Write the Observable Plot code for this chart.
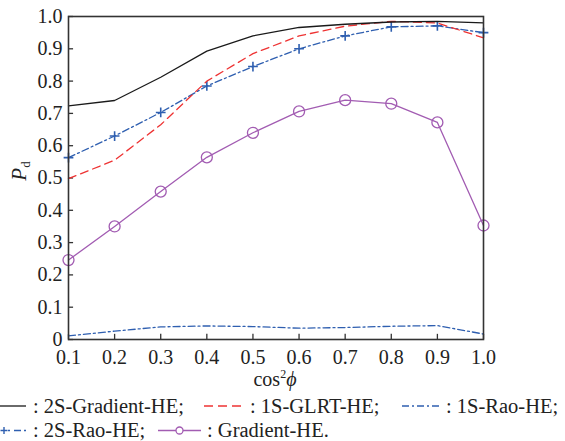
<!DOCTYPE html>
<html>
<head>
<meta charset="utf-8">
<script src="https://cdn.jsdelivr.net/npm/d3@7"></script>
<script src="https://cdn.jsdelivr.net/npm/@observablehq/plot@0.6"></script>
<style>
  html, body { margin: 0; padding: 0; background: #fff; font-family: 'Liberation Serif', serif; overflow: hidden; }
  #chart svg { display: block; }
  #legend { display: block; }
</style>
</head>
<body>
<div id="chart"></div>
<script>
// ---- data ----
const cos2phi = [0.1, 0.2, 0.3, 0.4, 0.5, 0.6, 0.7, 0.8, 0.9, 1.0];
const gradient2S = [0.723, 0.740, 0.812, 0.893, 0.940, 0.966, 0.976, 0.983, 0.985, 0.980];
const glrt1S     = [0.498, 0.555, 0.665, 0.800, 0.885, 0.940, 0.970, 0.985, 0.980, 0.934];
const rao1S      = [0.011, 0.026, 0.039, 0.042, 0.040, 0.035, 0.037, 0.041, 0.043, 0.017];
const rao2S      = [0.563, 0.630, 0.703, 0.785, 0.845, 0.900, 0.940, 0.968, 0.971, 0.950];
const gradientHE = [0.246, 0.350, 0.458, 0.564, 0.640, 0.706, 0.741, 0.730, 0.672, 0.353];
const xTicks = [0.1, 0.2, 0.3, 0.4, 0.5, 0.6, 0.7, 0.8, 0.9, 1.0];
const yTicks = [0, 0.1, 0.2, 0.3, 0.4, 0.5, 0.6, 0.7, 0.8, 0.9, 1.0];
const seriesNames = ["2S-Gradient-HE", "1S-GLRT-HE", "1S-Rao-HE", "2S-Rao-HE", "Gradient-HE"];

const BLACK = "#1a1a1a", RED = "#ee3333", BLUE = "#2f5fb0", PURPLE = "#a25cb2";
const FONT = "Liberation Serif";

const toRows = (ys) => cos2phi.map((x, i) => ({x, y: ys[i]}));

// stroked plus symbol
const plusSymbol = {
  draw(ctx, size) {
    const r = Math.sqrt(size) / 2;
    ctx.moveTo(-r, 0); ctx.lineTo(r, 0);
    ctx.moveTo(0, -r); ctx.lineTo(0, r);
  }
};

const W = 565, H = 393;
const chart = Plot.plot({
  width: W, height: H,
  marginLeft: 68, marginRight: 82, marginTop: 16, marginBottom: 54,
  style: {fontFamily: FONT, fontSize: "20px", color: "#222", background: "#fff"},
  x: {domain: [0.1, 1.0], ticks: xTicks, tickFormat: d => d.toFixed(1), tickSize: 0, tickPadding: 10, label: null},
  y: {domain: [0, 1.0], ticks: yTicks, tickFormat: d => d === 0 ? "0" : d.toFixed(1), tickSize: 0, tickPadding: 6, label: null},
  marks: [
    // inward ticks
    Plot.ruleX(xTicks, {x: d => d, y1: 0, y2: 0.016, stroke: "#333", strokeWidth: 1.3}),
    Plot.ruleY(yTicks, {y: d => d, x1: 0.1, x2: 0.111, stroke: "#333", strokeWidth: 1.3}),
    Plot.line(toRows(rao1S), {x: "x", y: "y", stroke: BLUE, strokeWidth: 1.3, strokeDasharray: "7,3,2,3"}),
    Plot.line(toRows(gradientHE), {x: "x", y: "y", stroke: PURPLE, strokeWidth: 1.3}),
    Plot.dot(toRows(gradientHE), {x: "x", y: "y", r: 5.5, stroke: PURPLE, strokeWidth: 1.3, fill: "none"}),
    Plot.line(toRows(rao2S), {x: "x", y: "y", stroke: BLUE, strokeWidth: 1.3, strokeDasharray: "7,3,2,3"}),
    Plot.dot(toRows(rao2S), {x: "x", y: "y", symbol: plusSymbol, r: 5.5, stroke: BLUE, strokeWidth: 1.6}),
    Plot.line(toRows(glrt1S), {x: "x", y: "y", stroke: RED, strokeWidth: 1.3, strokeDasharray: "8,5"}),
    Plot.line(toRows(gradient2S), {x: "x", y: "y", stroke: BLACK, strokeWidth: 1.3}),
    Plot.frame({stroke: "#333", strokeWidth: 1.6})
  ]
});
document.getElementById("chart").appendChild(chart);

// axis labels with italic parts
const svg = d3.select(chart);
const xl = svg.append("text")
  .attr("x", 275).attr("y", 386)
  .attr("text-anchor", "middle")
  .attr("font-family", FONT).attr("font-size", 20).attr("fill", "#222");
xl.append("tspan").text("cos");
xl.append("tspan").attr("font-size", 12).attr("dy", -8).text("2");
xl.append("tspan").attr("font-style", "italic").attr("dy", 8).text("ϕ");

const yl = svg.append("text")
  .attr("transform", "translate(26,171) rotate(-90)")
  .attr("text-anchor", "middle")
  .attr("font-family", FONT).attr("font-size", 21).attr("fill", "#222");
yl.append("tspan").attr("font-style", "italic").text("P");
yl.append("tspan").attr("font-size", 13).attr("dy", 4).text("d");

// ---- legend ----
const legendItems = [
  {name: seriesNames[0], color: BLACK, dash: null, marker: null, row: 0, x0: -2, x1: 26, tx: 33},
  {name: seriesNames[1], color: RED, dash: "9,5", marker: null, row: 0, x0: 204, x1: 244, tx: 250},
  {name: seriesNames[2], color: BLUE, dash: "7,3,2,3", marker: null, row: 0, x0: 402, x1: 440, tx: 446},
  {name: seriesNames[3], color: BLUE, dash: "2,4,7,3", marker: "plus", row: 1, x0: 8, x1: 26, tx: 33},
  {name: seriesNames[4], color: PURPLE, dash: null, marker: "circle", row: 1, x0: 158, x1: 201, tx: 207}
];
const LH = 441 - H;
const legend = d3.create("svg").attr("id", "legend").attr("width", W).attr("height", LH);
const rowY = [13, 37.5];
legendItems.forEach((it, i) => {
  const y = rowY[it.row];
  legend.append("line").attr("x1", it.x0).attr("x2", it.x1).attr("y1", y).attr("y2", y)
    .attr("stroke", it.color).attr("stroke-width", 1.3)
    .attr("stroke-dasharray", it.dash);
  if (it.marker === "circle") {
    legend.append("circle").attr("cx", (it.x0 + it.x1) / 2).attr("cy", y).attr("r", 3.5)
      .attr("fill", "#fff").attr("stroke", it.color).attr("stroke-width", 1.3);
  } else if (it.marker === "plus") {
    const cx = 4;
    legend.append("path").attr("d", `M${cx - 3.5},${y}L${cx + 3.5},${y}M${cx},${y - 3.5}L${cx},${y + 3.5}`)
      .attr("stroke", it.color).attr("stroke-width", 1.4);
  }
  legend.append("text").attr("x", it.tx).attr("y", y + 6.5)
    .attr("font-family", FONT).attr("font-size", 20.5).attr("fill", "#222")
    .text(": " + it.name + (i === legendItems.length - 1 ? "." : ";"));
});
document.body.appendChild(legend.node());
</script>
</body>
</html>
